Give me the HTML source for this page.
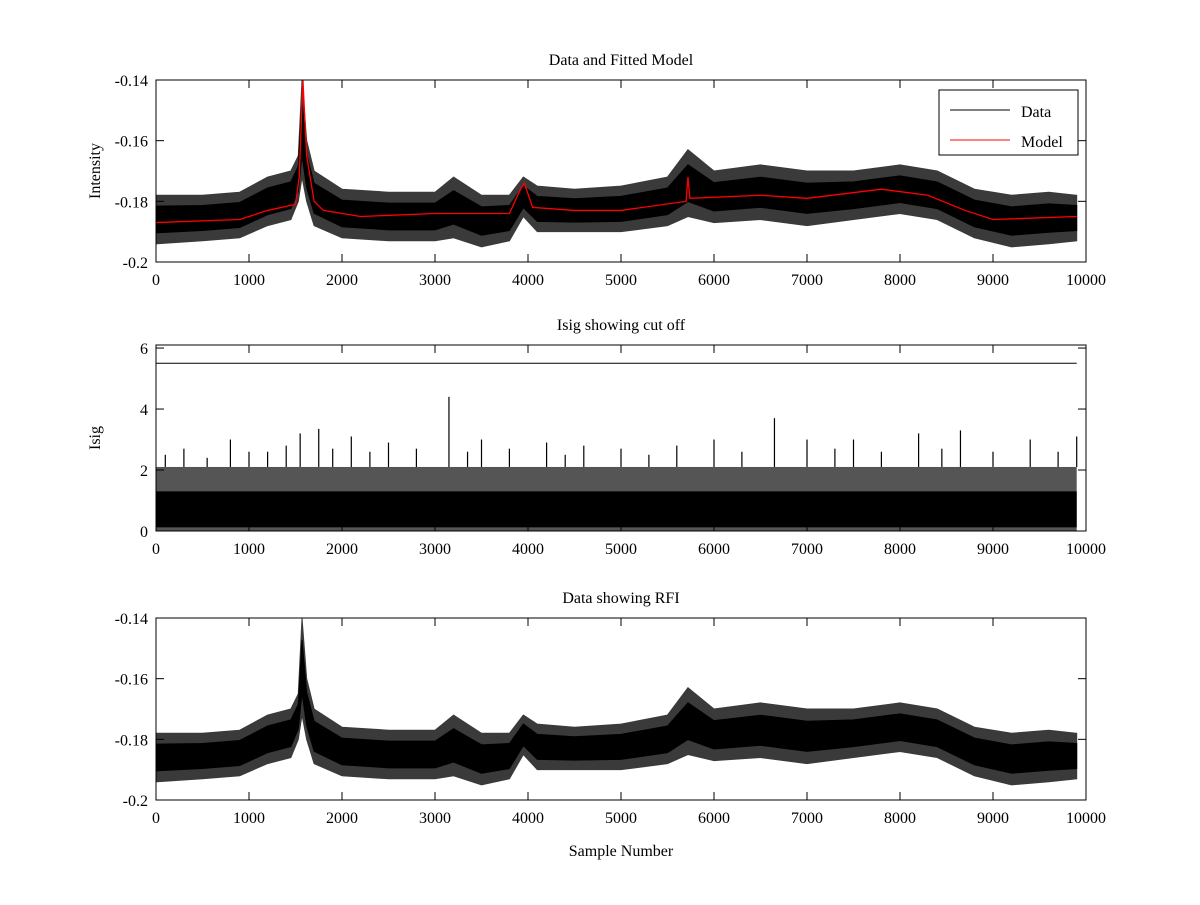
<!DOCTYPE html>
<html><head><meta charset="utf-8"><style>
body{margin:0;background:#fff;}
svg text{font-family:"Liberation Serif",serif;font-size:16px;fill:#000;}
</style></head><body>
<svg id="chart" width="1200" height="900" viewBox="0 0 1200 900"></svg>
<script>
const sampleX=[0,500,900,1200,1450,1530,1570,1620,1700,2000,2500,3000,3200,3500,3800,3950,4100,4500,5000,5500,5720,6000,6500,7000,7500,8000,8400,8800,9200,9600,9900];
const dataHi=[-0.178,-0.178,-0.177,-0.172,-0.170,-0.165,-0.140,-0.160,-0.170,-0.176,-0.177,-0.177,-0.172,-0.178,-0.178,-0.172,-0.175,-0.176,-0.175,-0.172,-0.163,-0.170,-0.168,-0.170,-0.170,-0.168,-0.170,-0.176,-0.178,-0.177,-0.178];
const dataLo=[-0.194,-0.193,-0.192,-0.188,-0.186,-0.180,-0.172,-0.180,-0.188,-0.192,-0.193,-0.193,-0.192,-0.195,-0.193,-0.185,-0.190,-0.190,-0.190,-0.188,-0.185,-0.187,-0.186,-0.188,-0.186,-0.184,-0.186,-0.192,-0.195,-0.194,-0.193];
const modelX=[0,900,1200,1500,1540,1580,1620,1700,1800,2200,3000,3800,3920,3960,4050,4500,5000,5700,5720,5740,6500,7000,7800,8300,8700,9000,9900];
const modelY=[-0.187,-0.186,-0.183,-0.181,-0.172,-0.140,-0.165,-0.180,-0.183,-0.185,-0.184,-0.184,-0.176,-0.174,-0.182,-0.183,-0.183,-0.180,-0.172,-0.179,-0.178,-0.179,-0.176,-0.178,-0.183,-0.186,-0.185];
const isigOuterHi=2.1, isigCoreHi=1.3, isigCoreLo=0.12, isigCut=5.5;
const spikeX=[100,300,550,800,1000,1200,1400,1550,1750,1900,2100,2300,2500,2800,3150,3350,3500,3800,4200,4400,4600,5000,5300,5600,6000,6300,6650,7000,7300,7500,7800,8200,8450,8650,9000,9400,9700,9900];
const spikeV=[2.5,2.7,2.4,3.0,2.6,2.6,2.8,3.2,3.35,2.7,3.1,2.6,2.9,2.7,4.4,2.6,3.0,2.7,2.9,2.5,2.8,2.7,2.5,2.8,3.0,2.6,3.7,3.0,2.7,3.0,2.6,3.2,2.7,3.3,2.6,3.0,2.6,3.1];
const xTicks=[0,1000,2000,3000,4000,5000,6000,7000,8000,9000,10000];
const intTicks=[-0.2,-0.18,-0.16,-0.14];
const isigTicks=[0,2,4,6];

const svg=document.getElementById('chart');const NS='http://www.w3.org/2000/svg';
function mk(t,a,p){const e=document.createElementNS(NS,t);for(const k in a)e.setAttribute(k,a[k]);(p||svg).appendChild(e);return e;}
const X0=156,X1=1086;
const sx=v=>X0+(v/10000)*(X1-X0);

function axes(name,top,bot,ymin,ymax,yt,fmt,title,ylab){
  const g=mk('g',{});
  
  
  const sy=v=>bot-(v-ymin)/(ymax-ymin)*(bot-top);
  const ti=mk('text',{x:(X0+X1)/2,y:top-15,'text-anchor':'middle'},g);ti.textContent=title;
  
  
  const yl=mk('text',{x:0,y:0,'text-anchor':'middle',transform:`translate(100,${(top+bot)/2}) rotate(-90)`},g);yl.textContent=ylab;
  
  
  return {g,sy,top,bot,yt,fmt};
}
function frame(a){
  const g=a.g,sy=a.sy,top=a.top,bot=a.bot;
  mk('rect',{x:X0,y:top,width:X1-X0,height:bot-top,fill:'none',stroke:'#000','stroke-width':1},g);
  xTicks.forEach(t=>{const x=sx(t);
    mk('line',{x1:x,x2:x,y1:bot,y2:bot-8,stroke:'#000'},g);mk('line',{x1:x,x2:x,y1:top,y2:top+8,stroke:'#000'},g);
    const tx=mk('text',{x:x,y:bot+23,'text-anchor':'middle'},g);tx.textContent=t;
    
    });
  a.yt.forEach(t=>{const y=sy(t);
    mk('line',{x1:X0,x2:X0+8,y1:y,y2:y,stroke:'#000'},g);mk('line',{x1:X1,x2:X1-8,y1:y,y2:y,stroke:'#000'},g);
    const tx=mk('text',{x:X0-8,y:y+6,'text-anchor':'end'},g);tx.textContent=a.fmt(t);
    
    });
}
function band(g,sy,name){
  let pts=sampleX.map((x,i)=>sx(x)+','+sy(dataHi[i]));
  for(let i=sampleX.length-1;i>=0;i--)pts.push(sx(sampleX[i])+','+sy(dataLo[i]));
  const p=mk('polygon',{points:pts.join(' '),fill:'#3a3a3a',stroke:'#3a3a3a','stroke-width':1},g);
  
  
  const mid=i=>(dataHi[i]+dataLo[i])/2, hw=i=>(dataHi[i]-dataLo[i])/2;
  let c=sampleX.map((x,i)=>sx(x)+','+sy(mid(i)+0.55*hw(i)));
  for(let i=sampleX.length-1;i>=0;i--)c.push(sx(sampleX[i])+','+sy(mid(i)-0.55*hw(i)));
  const q=mk('polygon',{points:c.join(' '),fill:'#000',stroke:'#000','stroke-width':1},g);
  
  
}
const f2=t=>t===-0.2?'-0.2':t.toFixed(2);
// Plot 1
const a1=axes('plot-data-model',80,262,-0.2,-0.14,intTicks,f2,'Data and Fitted Model','Intensity');
band(a1.g,a1.sy,'data-series');
const mp=mk('polyline',{points:modelX.map((x,i)=>sx(x)+','+a1.sy(modelY[i])).join(' '),fill:'none',stroke:'#f00','stroke-width':1.3},a1.g);


frame(a1);
const lg=mk('g',{},a1.g);


mk('rect',{x:939,y:90,width:139,height:65,fill:'#fff',stroke:'#000'},lg);
mk('line',{x1:950,x2:1010,y1:110,y2:110,stroke:'#000'},lg);
mk('line',{x1:950,x2:1010,y1:140,y2:140,stroke:'#f00'},lg);
let t=mk('text',{x:1021,y:117},lg);t.textContent='Data';
t=mk('text',{x:1021,y:147},lg);t.textContent='Model';
// Plot 2
const a2=axes('plot-isig',345,531,0,6.1,isigTicks,t=>String(t),'Isig showing cut off','Isig');
const sy2=a2.sy;
const ob=mk('rect',{x:sx(0),y:sy2(isigOuterHi),width:sx(9900)-sx(0),height:sy2(0)-sy2(isigOuterHi),fill:'#555'},a2.g);


const ib=mk('rect',{x:sx(0),y:sy2(isigCoreHi),width:sx(9900)-sx(0),height:sy2(isigCoreLo)-sy2(isigCoreHi),fill:'#000'},a2.g);


spikeX.forEach((x,i)=>{const l=mk('line',{x1:sx(x),x2:sx(x),y1:sy2(isigOuterHi),y2:sy2(spikeV[i]),stroke:'#000','stroke-width':1.2},a2.g);
  
  });
const cl=mk('line',{x1:sx(0),x2:sx(9900),y1:sy2(isigCut),y2:sy2(isigCut),stroke:'#000'},a2.g);


frame(a2);
// Plot 3
const a3=axes('plot-rfi',618,800,-0.2,-0.14,intTicks,f2,'Data showing RFI','');
band(a3.g,a3.sy,'rfi-data-series');
frame(a3);
const xl=mk('text',{x:(X0+X1)/2,y:856,'text-anchor':'middle'});xl.textContent='Sample Number';


</script>
</body></html>
